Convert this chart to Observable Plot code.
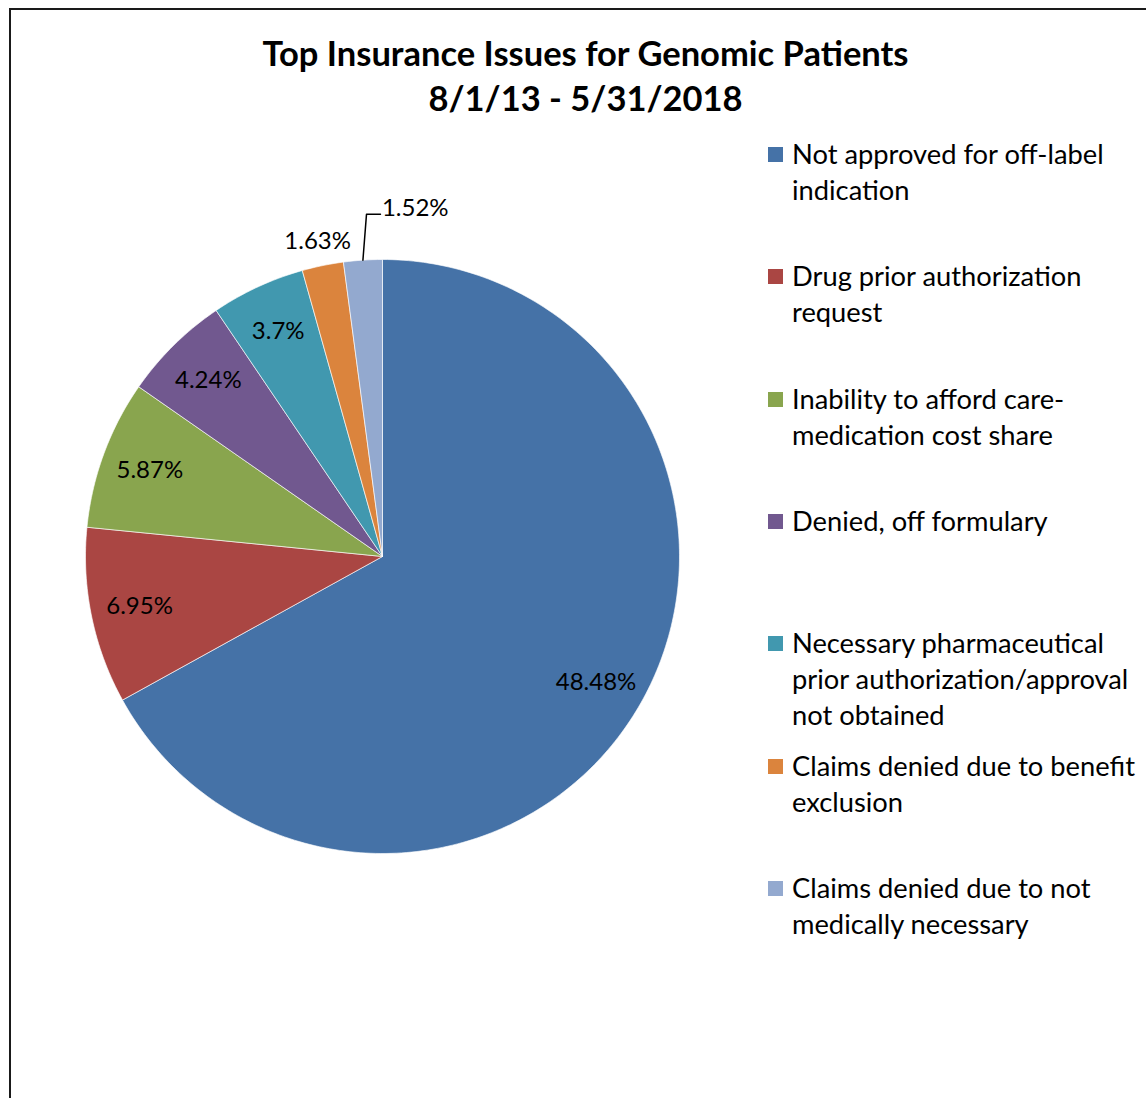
<!DOCTYPE html>
<html>
<head>
<meta charset="utf-8">
<script src="https://cdn.jsdelivr.net/npm/d3@7"></script>
<script src="https://cdn.jsdelivr.net/npm/@observablehq/plot@0.6"></script>
<style>
  html, body { margin: 0; padding: 0; background: #fff; overflow: hidden; }
  #page { position: relative; width: 1146px; height: 1098px; font-family: Lato, "Open Sans", sans-serif; color: #000; }
  #frame { position: absolute; left: 9px; top: 8px; width: 1200px; height: 1200px; border: 2px solid #1a1a1a; box-sizing: border-box; pointer-events: none; z-index: 5; }
  #title { position: absolute; left: 0; top: 30px; width: 1171px; text-align: center; font-weight: bold; font-size: 34.5px; line-height: 45px; z-index: 3; }
  #chart { position: absolute; left: 0; top: 0; z-index: 1; }
  #legend { position: absolute; left: 0; top: 0; z-index: 3; }
  .item { position: absolute; left: 768px; font-size: 27.3px; line-height: 36px; white-space: pre; }
  .sw { position: absolute; left: 0; top: 11px; width: 15px; height: 15px; }
  .tx { position: absolute; left: 24px; top: 0; }
</style>
</head>
<body>
<div id="page">
  <div id="chart"></div>
  <div id="title">Top Insurance Issues for Genomic Patients<br>8/1/13 - 5/31/2018</div>
  <div id="legend"></div>
  <div id="frame"></div>
</div>
<script>
const categories = [
  "Not approved for off-label\nindication",
  "Drug prior authorization\nrequest",
  "Inability to afford care-\nmedication cost share",
  "Denied, off formulary",
  "Necessary pharmaceutical\nprior authorization/approval\nnot obtained",
  "Claims denied due to benefit\nexclusion",
  "Claims denied due to not\nmedically necessary"
];
const values = [48.48, 6.95, 5.87, 4.24, 3.7, 1.63, 1.52];
const valueLabels = ["48.48%", "6.95%", "5.87%", "4.24%", "3.7%", "1.63%", "1.52%"];
const colors = ["#4572A7", "#AA4643", "#89A54E", "#71588F", "#4198AF", "#DB843D", "#93A9CF"];

// geometry of slices (angles clockwise from 12 o'clock)
const total = d3.sum(values);
let acc = 0;
const slices = values.map((v, i) => {
  const a0 = acc / total * 2 * Math.PI;
  acc += v;
  const a1 = acc / total * 2 * Math.PI;
  return {name: categories[i], value: v, label: valueLabels[i], a0, a1, mid: (a0 + a1) / 2, frac: v / total, i};
});

const poly = [];
for (const s of slices) {
  poly.push({name: s.name, x: 0, y: 0});
  const n = Math.max(2, Math.ceil((s.a1 - s.a0) / (Math.PI / 180)));
  for (let k = 0; k <= n; k++) {
    const a = s.a0 + (s.a1 - s.a0) * k / n;
    poly.push({name: s.name, x: Math.sin(a), y: Math.cos(a)});
  }
  poly.push({name: s.name, x: 0, y: 0});
}

const last = slices.length - 1;
const inside = slices.filter(s => s.frac >= 0.03).map(s => ({label: s.label, x: 0.835 * Math.sin(s.mid), y: 0.835 * Math.cos(s.mid)}));
const outside = slices.filter(s => s.frac < 0.03 && s.i !== last).map(s => ({label: s.label, x: 1.085 * Math.sin(s.mid), y: 1.085 * Math.cos(s.mid)}));
const ls = slices[last];
const p0 = {x: Math.sin(ls.mid), y: Math.cos(ls.mid)};
const elbow = {x: p0.x + 0.012, y: 1.152};
const pend = {x: elbow.x + 0.047, y: 1.152};
const leader = [p0, elbow, pend];
const leaderLabel = [{label: ls.label, x: pend.x + 0.005, y: pend.y}];

const plot = Plot.plot({
  width: 1146,
  height: 1098,
  margin: 0,
  style: {background: "transparent"},
  x: {domain: [-1, 1], range: [85, 679], axis: null},
  y: {domain: [-1, 1], range: [853, 259], axis: null},
  color: {domain: categories, range: colors},
  marks: [
    Plot.line(poly, {x: "x", y: "y", z: "name", fill: "name", stroke: "#ffffff", strokeWidth: 0.8, strokeOpacity: 0.8, strokeLinejoin: "round"}),
    Plot.text(inside, {x: "x", y: "y", text: "label", fontSize: 24, fontFamily: "Lato, sans-serif", fill: "#000"}),
    Plot.text(outside, {x: "x", y: "y", text: "label", fontSize: 24, fontFamily: "Lato, sans-serif", fill: "#000"}),
    Plot.line(leader, {x: "x", y: "y", stroke: "#000", strokeWidth: 1.5}),
    Plot.text(leaderLabel, {x: "x", y: "y", text: "label", textAnchor: "start", dy: -6, fontSize: 24, fontFamily: "Lato, sans-serif", fill: "#000"})
  ]
});
document.getElementById("chart").appendChild(plot);

const legend = document.getElementById("legend");
categories.forEach((c, i) => {
  const item = document.createElement("div");
  item.className = "item";
  item.style.top = (136 + i * 122.3) + "px";
  const sw = document.createElement("div");
  sw.className = "sw";
  sw.style.background = colors[i];
  const tx = document.createElement("div");
  tx.className = "tx";
  tx.textContent = c;
  item.appendChild(sw);
  item.appendChild(tx);
  legend.appendChild(item);
});
</script>
</body>
</html>
